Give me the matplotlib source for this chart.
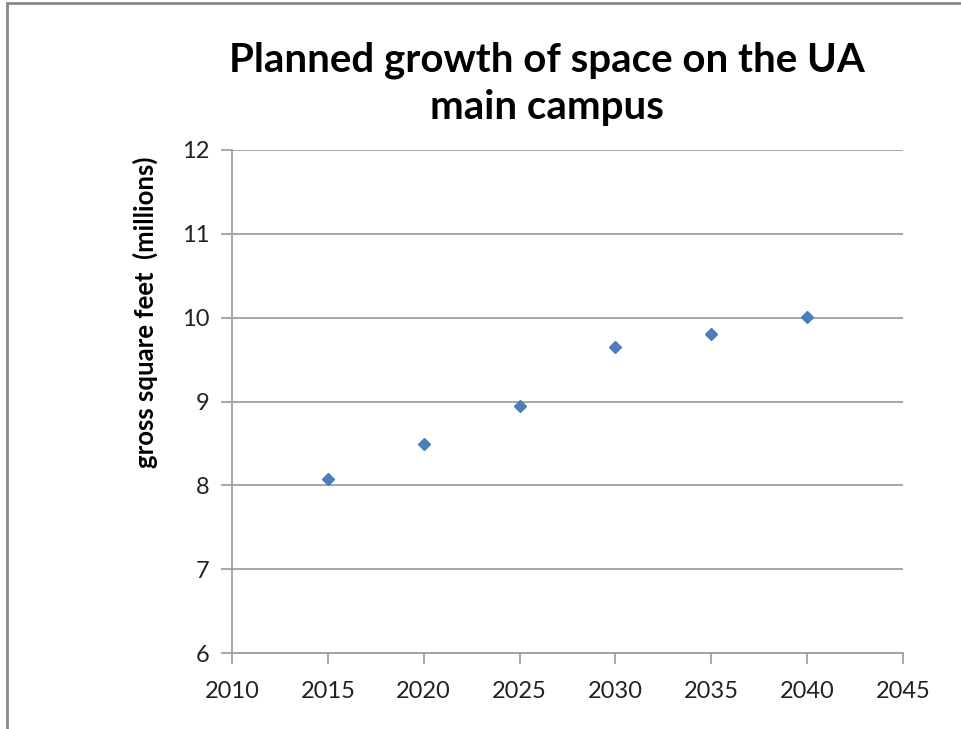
import matplotlib
matplotlib.use("Agg")
import matplotlib.pyplot as plt
from matplotlib.patches import Rectangle

# --- data ---
years = [2015, 2020, 2025, 2030, 2035, 2040]
gsf_millions = [8.07, 8.49, 8.95, 9.65, 9.80, 10.01]

x_ticks = [2010, 2015, 2020, 2025, 2030, 2035, 2040, 2045]
y_ticks = [6, 7, 8, 9, 10, 11, 12]

TITLE = "Planned growth of space on the UA\nmain campus"
Y_LABEL = "gross square feet  (millions)"

plt.rcParams['font.family'] = ['Lato', 'DejaVu Sans']

fig = plt.figure(figsize=(9.62, 7.29), dpi=100)
ax = fig.add_axes([232 / 962, 1 - 653 / 729, (903 - 232) / 962, (653 - 150) / 729])

# chart frame (cropped on right/bottom in the original)
fig.patches.append(Rectangle((7 / 962, -0.1), 1.2, 1 - 3 / 729 + 0.1,
                             transform=fig.transFigure, fill=False,
                             edgecolor='#888888', linewidth=2))

ax.plot(years, gsf_millions, linestyle='none', marker='D', markersize=6,
        color='#4a7ebb', markeredgecolor='#4a7ebb')

ax.set_xlim(2010, 2045)
ax.set_ylim(6, 12)
ax.set_xticks(x_ticks)
ax.set_yticks(y_ticks)
ax.grid(axis='y', color='#a0a0a0', linewidth=1.3)
ax.set_axisbelow(True)

for side in ['top', 'right']:
    ax.spines[side].set_visible(False)
for side in ['left', 'bottom']:
    ax.spines[side].set_color('#a0a0a0')
    ax.spines[side].set_linewidth(1.3)

ax.tick_params(axis='both', direction='out', length=8, width=1.3,
               color='#a0a0a0', labelsize=17, labelcolor='#222222')
ax.tick_params(axis='x', pad=12)
ax.tick_params(axis='y', pad=8)

# Excel put the axis title off-centre, toward the top
ax.set_ylabel(Y_LABEL, fontsize=18.5, fontweight='bold')
ax.yaxis.set_label_coords(-0.11, 0.678)
fig.text(547 / 962, 1 - 84 / 729, TITLE, ha='center', va='center',
         fontsize=29, fontweight='bold', linespacing=1.32)

fig.savefig("out.png", dpi=100)
